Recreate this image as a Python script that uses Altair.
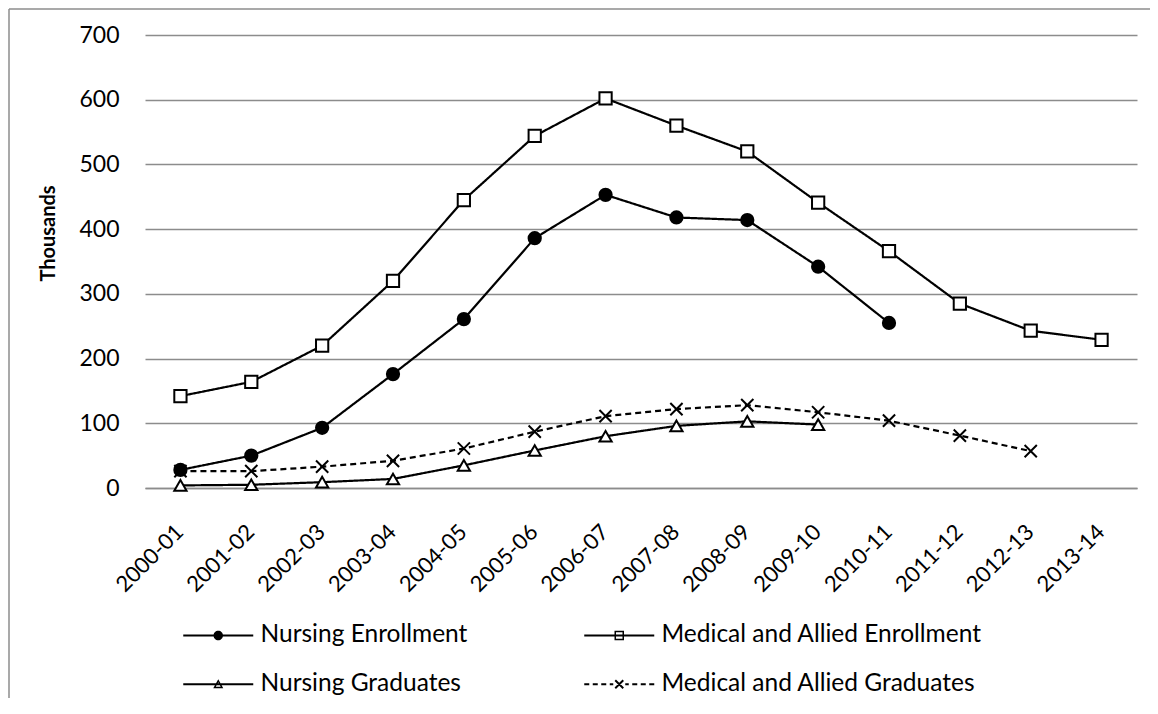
import altair as alt
import pandas as pd

# ---- data (thousands) ----
years = ["2000-01", "2001-02", "2002-03", "2003-04", "2004-05", "2005-06", "2006-07",
         "2007-08", "2008-09", "2009-10", "2010-11", "2011-12", "2012-13", "2013-14"]

nursing_enrollment = [28, 50, 93, 176, 261, 386, 453, 418, 414, 342, 255, None, None, None]
medical_enrollment = [142, 164, 220, 320, 445, 544, 602, 560, 520, 441, 366, 285, 243, 229]
nursing_graduates = [4, 5, 9, 14, 35, 58, 80, 96, 103, 98, None, None, None, None]
medical_graduates = [26, 26, 33, 42, 61, 87, 111, 122, 128, 117, 104, 81, 57, None]

series_names = ["Nursing Enrollment", "Medical and Allied Enrollment",
                "Nursing Graduates", "Medical and Allied Graduates"]
series_values = [nursing_enrollment, medical_enrollment, nursing_graduates, medical_graduates]

y_ticks = [0, 100, 200, 300, 400, 500, 600, 700]

rows = []
for name, vals in zip(series_names, series_values):
    for yr, v in zip(years, vals):
        if v is not None:
            rows.append({"year": yr, "series": name, "value": v})
df = pd.DataFrame(rows)

FONT = "Lato"
GRID = "#8c8c8c"

# marker shapes on the plot
X_PATH = "M-1,-1L1,1M-1,1L1,-1"
plot_shapes = ["circle", "square", "triangle-up", X_PATH]
fills = ["black", "white", "white", "white"]

# legend symbols drawn with fill only (units scaled by sqrt(size)/2 = 5px):
# a thin bar for the line, plus the marker; hollow markers use reversed inner rings.
BAR = "M-7,-0.2L7,-0.2L7,0.2L-7,0.2Z"
leg_circle = BAR + "M-0.95,0A0.95,0.95,0,1,1,0.95,0A0.95,0.95,0,1,1,-0.95,0Z"
leg_square = (BAR + "M-0.95,-0.95L0.95,-0.95L0.95,0.95L-0.95,0.95Z"
              "M-0.65,-0.65L-0.65,0.65L0.65,0.65L0.65,-0.65Z")
leg_tri = (BAR + "M0,-1L1,0.8L-1,0.8Z"
           "M0,-0.38L-0.49,0.5L0.49,0.5Z")


def dash(a, b):
    return f"M{a},-0.2L{b},-0.2L{b},0.2L{a},0.2Z"


leg_x = (dash(-7, -6) + dash(-5.3, -4.3) + dash(-3.6, -2.6) + dash(-1.9, -1.2)
         + dash(1.2, 1.9) + dash(2.6, 3.6) + dash(4.3, 5.3) + dash(6, 7)
         + "M-0.659,-0.941L0.941,0.659L0.659,0.941L-0.941,-0.659Z"
         + "M-0.659,0.941L-0.941,0.659L0.659,-0.941L0.941,-0.659Z")
legend_shapes = [leg_circle, leg_square, leg_tri, leg_x]

x_enc = alt.X("year:O", sort=years,
              scale=alt.Scale(type="point", padding=0.5),
              axis=alt.Axis(title=None, labelAngle=-45, labelAlign="right",
                            labelBaseline="middle", labelFont=FONT, labelFontSize=22,
                            labelColor="black", labelPadding=40, labelOffset=-1,
                            ticks=False, domain=True, domainColor=GRID, domainWidth=1.5,
                            grid=False))
y_enc = alt.Y("value:Q",
              scale=alt.Scale(domain=[0, 700], nice=False),
              axis=alt.Axis(values=y_ticks, grid=True, gridColor=GRID, gridWidth=1.5,
                            domain=False, ticks=False, labelFont=FONT, labelFontSize=23,
                            labelColor="black", labelPadding=26,
                            title="Thousands", titleFont=FONT, titleFontSize=20,
                            titleFontWeight="bold", titleColor="black",
                            titleAngle=270, titleAlign="center", titleBaseline="middle",
                            titleX=-97, titleY=198))

base = alt.Chart(df)

lines = base.mark_line(color="black", strokeWidth=2.2).encode(
    x=x_enc, y=y_enc,
    detail="series:N",
    strokeDash=alt.StrokeDash("series:N",
                              scale=alt.Scale(domain=series_names,
                                              range=[[1, 0], [1, 0], [1, 0], [6, 4]]),
                              legend=None),
)

points = base.mark_point(filled=True, stroke="black", strokeWidth=2, size=150,
                         opacity=1).encode(
    x=x_enc, y=y_enc,
    shape=alt.Shape("series:N", scale=alt.Scale(domain=series_names, range=plot_shapes),
                    legend=None),
    fill=alt.Fill("series:N", scale=alt.Scale(domain=series_names, range=fills),
                  legend=None),
)

leg = alt.Legend(title=None, orient="none", legendX=69, legendY=588, columns=2,
                 direction="horizontal",
                 symbolSize=100, symbolOffset=-8, labelOffset=30,
                 symbolFillColor="black", symbolStrokeColor="transparent",
                 symbolStrokeWidth=0, symbolOpacity=1,
                 labelFont=FONT, labelFontSize=24.5, labelColor="black", labelLimit=500,
                 rowPadding=24, columnPadding=116, padding=0)

legend_layer = base.transform_filter("datum.value < 0").mark_point(
    filled=True, fill="black", strokeWidth=0, opacity=1, size=100).encode(
    shape=alt.Shape("series:N", scale=alt.Scale(domain=series_names, range=legend_shapes),
                    legend=leg),
)

frame = pd.DataFrame({"a": [0]})
border_left = alt.Chart(frame).mark_rule(color=GRID, strokeWidth=1.5).encode(
    x=alt.value(-136), y=alt.value(-26), y2=alt.value(900))
border_top = alt.Chart(frame).mark_rule(color=GRID, strokeWidth=1.5).encode(
    x=alt.value(-136), x2=alt.value(1100), y=alt.value(-26))

chart = alt.layer(border_left, border_top, lines, points, legend_layer).resolve_scale(
    shape="independent", fill="independent"
).resolve_legend(shape="independent", fill="independent").properties(
    width=992, height=453,
    padding={"left": 137, "top": 27, "right": 13, "bottom": 210},
    autosize=alt.AutoSizeParams(type="none"),
    background="white",
).configure_view(stroke=None)

chart.save("out.html", embed_options={"renderer": "svg", "actions": False})
